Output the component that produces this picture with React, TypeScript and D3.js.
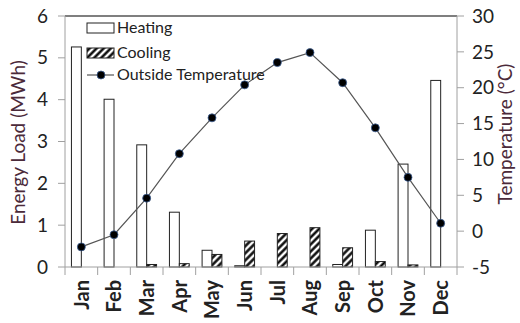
import * as d3 from "d3";
import React from "react";

const months = ["Jan", "Feb", "Mar", "Apr", "May", "Jun", "Jul", "Aug", "Sep", "Oct", "Nov", "Dec"];
const heating = [5.26, 4.01, 2.92, 1.31, 0.4, 0.03, 0, 0, 0.06, 0.88, 2.46, 4.46];
const cooling = [0, 0, 0.06, 0.08, 0.3, 0.62, 0.8, 0.94, 0.46, 0.13, 0.05, 0];
const temperature = [-2.2, -0.5, 4.6, 10.8, 15.8, 20.4, 23.5, 24.9, 20.7, 14.4, 7.5, 1.1];
const loadTicks = [0, 1, 2, 3, 4, 5, 6];
const tempTicks = [-5, 0, 5, 10, 15, 20, 25, 30];

const W = 520, H = 323;
const m = { left: 65, right: 457, top: 16, bottom: 267 };
const font = "Lato, 'DejaVu Sans', sans-serif";
const axisGray = "#a0a0a0";
const titleColor = "#4b2a3a";

export default function App() {
  const x = d3.scaleBand<string>().domain(months).range([m.left, m.right]);
  const inner = d3.scaleBand<string>().domain(["h", "c"]).range([0, x.bandwidth()]).paddingOuter(0.65);
  const yL = d3.scaleLinear().domain([0, 6]).range([m.bottom, m.top]);
  const yR = d3.scaleLinear().domain([-5, 30]).range([m.bottom, m.top]);
  const cx = (d: string) => (x(d) as number) + x.bandwidth() / 2;
  const line = d3.line<number>().x((_, i) => cx(months[i])).y(d => yR(d));
  const bw = inner.bandwidth();

  return (
    <svg width={W} height={H} style={{ position: "absolute", left: 0, top: 0, background: "#fff" }} fontFamily={font}>
      <defs>
        <pattern id="hatch" width="5" height="5" patternUnits="userSpaceOnUse" patternTransform="rotate(45)">
          <rect width="5" height="5" fill="#fff" />
          <line x1="2.5" y1="-1" x2="2.5" y2="6" stroke="#000" strokeWidth="2.4" />
        </pattern>
      </defs>

      {/* bars */}
      {months.map((mo, i) => (
        <g key={mo}>
          <rect x={(x(mo) as number) + (inner("h") as number)} y={yL(heating[i])} width={bw}
            height={yL(0) - yL(heating[i])} fill="#fff" stroke="#222" strokeWidth={1} />
          <rect x={(x(mo) as number) + (inner("c") as number)} y={yL(cooling[i])} width={bw}
            height={yL(0) - yL(cooling[i])} fill="url(#hatch)" stroke="#222" strokeWidth={1} />
        </g>
      ))}

      {/* frame / axes */}
      <line x1={m.left} x2={m.right} y1={m.top} y2={m.top} stroke="#000" strokeWidth={1.2} />
      <line x1={m.left} x2={m.left} y1={m.top} y2={m.bottom} stroke={axisGray} />
      <line x1={m.right} x2={m.right} y1={m.top} y2={m.bottom} stroke={axisGray} />
      <line x1={m.left} x2={m.right} y1={m.bottom} y2={m.bottom} stroke={axisGray} />

      {loadTicks.map(t => (
        <g key={"l" + t}>
          <line x1={m.left - 7} x2={m.left} y1={yL(t)} y2={yL(t)} stroke={axisGray} />
          <text x={48} y={yL(t)} dy="0.35em" textAnchor="end" fontSize={19} fill="#222">{t}</text>
        </g>
      ))}
      {tempTicks.map(t => (
        <g key={"r" + t}>
          <line x1={m.right} x2={m.right + 7} y1={yR(t)} y2={yR(t)} stroke={axisGray} />
          <text x={472} y={yR(t)} dy="0.35em" textAnchor="start" fontSize={19} fill="#222">{t}</text>
        </g>
      ))}
      {months.concat("").map((mo, i) => {
        const xx = m.left + i * x.step();
        return <line key={"xt" + i} x1={xx} x2={xx} y1={m.bottom} y2={m.bottom + 8} stroke={axisGray} />;
      })}
      {months.map(mo => (
        <text key={"xl" + mo} transform={`translate(${cx(mo)},${280}) rotate(-90)`} dy="0.36em"
          textAnchor="end" fontSize={20} fontWeight="bold" fill="#222">{mo}</text>
      ))}

      {/* temperature line */}
      <path d={line(temperature) as string} fill="none" stroke="#555" strokeWidth={1.2} />
      {temperature.map((t, i) => (
        <circle key={"d" + i} cx={cx(months[i])} cy={yR(t)} r={4} fill="#000" stroke="#3d5f94" strokeWidth={0.8} />
      ))}

      {/* axis titles */}
      <text transform={`translate(18,${(m.top + m.bottom) / 2 + 1}) rotate(-90)`} textAnchor="middle" dy="0.35em"
        fontSize={19} fill={titleColor}>Energy Load (MWh)</text>
      <text transform={`translate(505,134) rotate(-90)`} textAnchor="middle" dy="0.35em"
        fontSize={19} fill={titleColor}>Temperature (°C)</text>

      {/* legend */}
      <g fontSize={16} fill="#222">
        <rect x={87} y={23} width={27} height={10} fill="#fff" stroke="#222" />
        <text x={117} y={33}>Heating</text>
        <rect x={87} y={48} width={27} height={10} fill="url(#hatch)" stroke="#222" />
        <text x={117} y={58}>Cooling</text>
        <line x1={87} x2={114} y1={75} y2={75} stroke="#555" strokeWidth={1.2} />
        <circle cx={101} cy={75} r={4} fill="#000" stroke="#3d5f94" strokeWidth={0.8} />
        <text x={117} y={80}>Outside Temperature</text>
      </g>
    </svg>
  );
}
